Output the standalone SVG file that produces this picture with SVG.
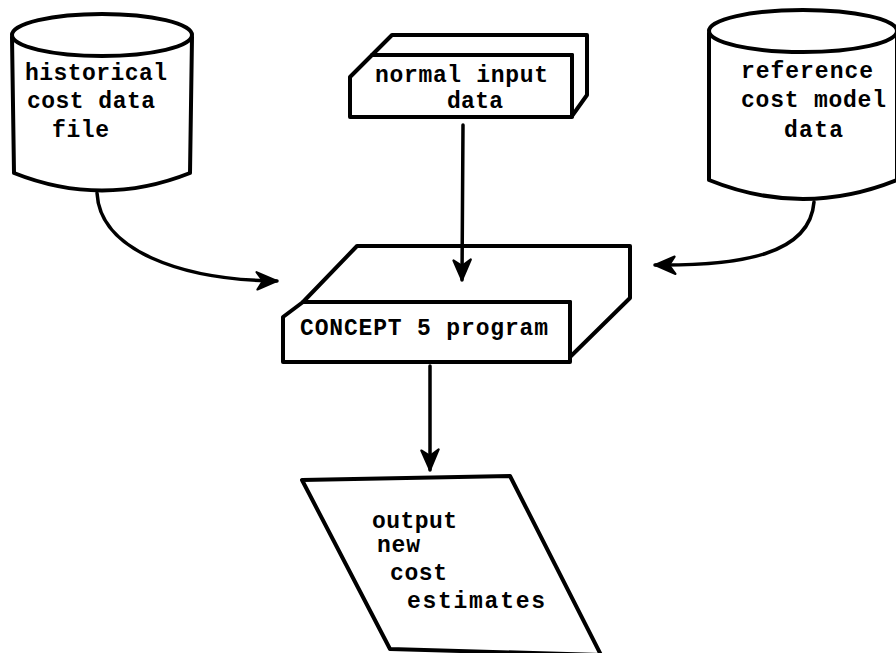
<svg xmlns="http://www.w3.org/2000/svg" width="896" height="653" viewBox="0 0 896 653">
<defs>
<style>
.sh{fill:#fff;stroke:#000;stroke-width:4;stroke-linejoin:round;stroke-linecap:round}
.ln{fill:none;stroke:#000;stroke-width:3.5;stroke-linecap:round}
.tx{font-family:"Liberation Mono","Courier New",monospace;font-weight:bold;font-size:23px;fill:#000}
</style>
<marker id="ah" markerUnits="userSpaceOnUse" markerWidth="26" markerHeight="22" viewBox="-2 -10 24 20" refX="19" refY="0" orient="auto">
<path d="M0,-8 L19,0 L1,8 L6,0 z" fill="#000" stroke="#000" stroke-width="2" stroke-linejoin="round"/>
</marker>
</defs>
<rect width="896" height="653" fill="#fff"/>

<g id="historical">
<path class="sh" d="M12,37 L14,173 Q102,208 190,173 L192,37"/>
<ellipse class="sh" cx="102" cy="35" rx="90" ry="21"/>
<text class="tx" x="25" y="80" textLength="142">historical</text>
<text class="tx" x="27" y="108" textLength="128">cost data</text>
<text class="tx" x="52" y="137" textLength="57">file</text>
</g>

<g id="normalinput">
<path class="sh" d="M372,55 L392,35 L587,35 L587,95 L572,116 L572,55 Z"/>
<path class="sh" d="M350,77 L372,55 L572,55 L572,117 L350,117 Z"/>
<text class="tx" x="375" y="82" textLength="173">normal input</text>
<text class="tx" x="447" y="108" textLength="56">data</text>
</g>

<g id="referencecost">
<path class="sh" d="M709,33 L709,180 Q803,218 897,180 L897,33"/>
<ellipse class="sh" cx="803" cy="31" rx="94" ry="21"/>
<text class="tx" x="741" y="78" textLength="132">reference</text>
<text class="tx" x="741" y="107" textLength="145">cost model</text>
<text class="tx" x="784" y="137" textLength="59">data</text>
</g>

<g id="concept">
<path class="sh" d="M303,302 L357,246 L630,246 L630,298 L570,357 L570,302 Z"/>
<path class="sh" d="M283,317 L303,302 L570,302 L570,362 L283,362 Z"/>
<text class="tx" x="300" y="335" textLength="248">CONCEPT 5 program</text>
</g>

<g id="output">
<path class="sh" d="M302,480 L510,476 L601,655 L390,649 Z"/>
<text class="tx" x="372" y="528" textLength="85">output</text>
<text class="tx" x="377" y="552" textLength="43">new</text>
<text class="tx" x="390" y="580" textLength="57">cost</text>
<text class="tx" x="407" y="608" textLength="138">estimates</text>
</g>

<g id="connectors">
<path class="ln" d="M97,193 C100,250 180,280 277,281" marker-end="url(#ah)"/>
<path class="ln" d="M463,125 L462,280" marker-end="url(#ah)"/>
<path class="ln" d="M814,202 C810,255 740,266 655,265" marker-end="url(#ah)"/>
<path class="ln" d="M430,366 L430,470" marker-end="url(#ah)"/>
</g>
</svg>
